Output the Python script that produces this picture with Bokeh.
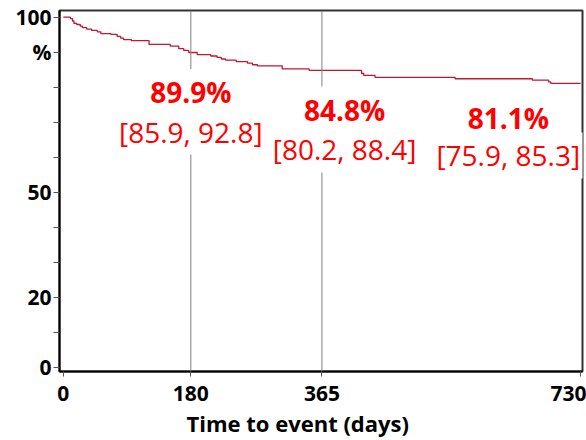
from bokeh.plotting import figure
from bokeh.models import Range1d, FixedTicker, Span, Label, Title
from bokeh.embed import file_html
from bokeh.resources import INLINE

# Kaplan-Meier style step data (days, survival %)
days = [0, 10, 13, 15, 19, 24, 27, 33, 40, 48, 53, 67, 76, 81, 85, 96, 121, 151, 163,
        170, 177, 189, 208, 217, 223, 229, 244, 260, 267, 274, 309, 347, 421, 424,
        440, 553, 662, 685, 688, 730]
surv = [100.0, 99.6, 98.9, 98.2, 97.9, 97.45, 97.0, 96.6, 96.2, 95.8, 95.3, 95.1, 94.5,
        94.0, 93.6, 93.3, 92.2, 91.7, 91.0, 90.5, 89.9, 89.3, 88.9, 88.5, 88.05, 87.7,
        87.3, 86.85, 86.4, 86.1, 85.2, 84.8, 83.9, 83.35, 82.8, 82.4, 82.0, 81.5, 81.1, 81.1]

x_ticks = [0, 180, 365, 730]
y_ticks = [0, 10, 20, 30, 40, 50, 60, 70, 80, 90, 100]
y_tick_labels = {0: "0", 10: "", 20: "20", 30: "", 40: "", 50: "50", 60: "",
                 70: "", 80: "", 90: "%", 100: "100"}
ref_days = [180, 365]

# annotations: (x day, bold y, bracket y, estimate, CI)
ann_x = [180, 397, 628]
ann_y_est = [78.6, 73.6, 71.3]
ann_y_ci = [67.3, 62.2, 60.5]
ann_est = ["89.9%", "84.8%", "81.1%"]
ann_ci = ["[85.9, 92.8]", "[80.2, 88.4]", "[75.9, 85.3]"]
x_title = "Time to event (days)"

FONT = "Open Sans"

p = figure(width=586, height=440, output_backend="svg", toolbar_location=None,
           x_range=Range1d(-5.36, 732.8), y_range=Range1d(-1.23, 101.9),
           min_border_left=59, min_border_right=4, min_border_top=10,
           min_border_bottom=69)
p.background_fill_color = "white"
p.border_fill_color = "white"
p.outline_line_color = "#333333"
p.outline_line_width = 2
p.xgrid.visible = False
p.ygrid.visible = False

for ax in (p.xaxis[0], p.yaxis[0]):
    ax.axis_line_color = "black"
    ax.axis_line_width = 2
    ax.major_tick_line_color = "#555555"
    ax.major_tick_line_width = 1
    ax.minor_tick_line_color = None
    ax.major_tick_in = 0
    ax.major_label_text_font = FONT
    ax.major_label_text_font_style = "bold"
    ax.major_label_text_font_size = "21px"
    ax.major_label_text_color = "black"

p.xaxis.ticker = FixedTicker(ticks=x_ticks)
p.xaxis.major_tick_out = 5
p.xaxis.major_label_standoff = 9
p.yaxis.ticker = FixedTicker(ticks=y_ticks)
p.yaxis.major_label_overrides = y_tick_labels
p.yaxis.major_tick_out = 6
p.yaxis.major_label_standoff = 2

for d in ref_days:
    p.add_layout(Span(location=d, dimension="height", line_color="#808080", line_width=1))

p.step(days, surv, mode="after", line_color="#c0182e", line_width=1.3)

for x, ye, yc, e, c in zip(ann_x, ann_y_est, ann_y_ci, ann_est, ann_ci):
    p.add_layout(Label(x=x, y=yc, text=c, text_font=FONT, text_font_size="28px",
                       text_color="#ff0000", text_align="center", text_baseline="middle",
                       background_fill_color="white", padding=4))
    p.add_layout(Label(x=x, y=ye, text=e, text_font=FONT, text_font_size="28px",
                       text_font_style="bold", text_color="#ff0000",
                       text_align="center", text_baseline="middle",
                       background_fill_color="white", padding=4))

p.add_layout(Title(text=x_title, align="left", offset=127, standoff=4,
                   text_font=FONT, text_font_size="22px", text_font_style="bold",
                   text_color="black"), "below")

open("out.html", "w").write(file_html(p, INLINE))
